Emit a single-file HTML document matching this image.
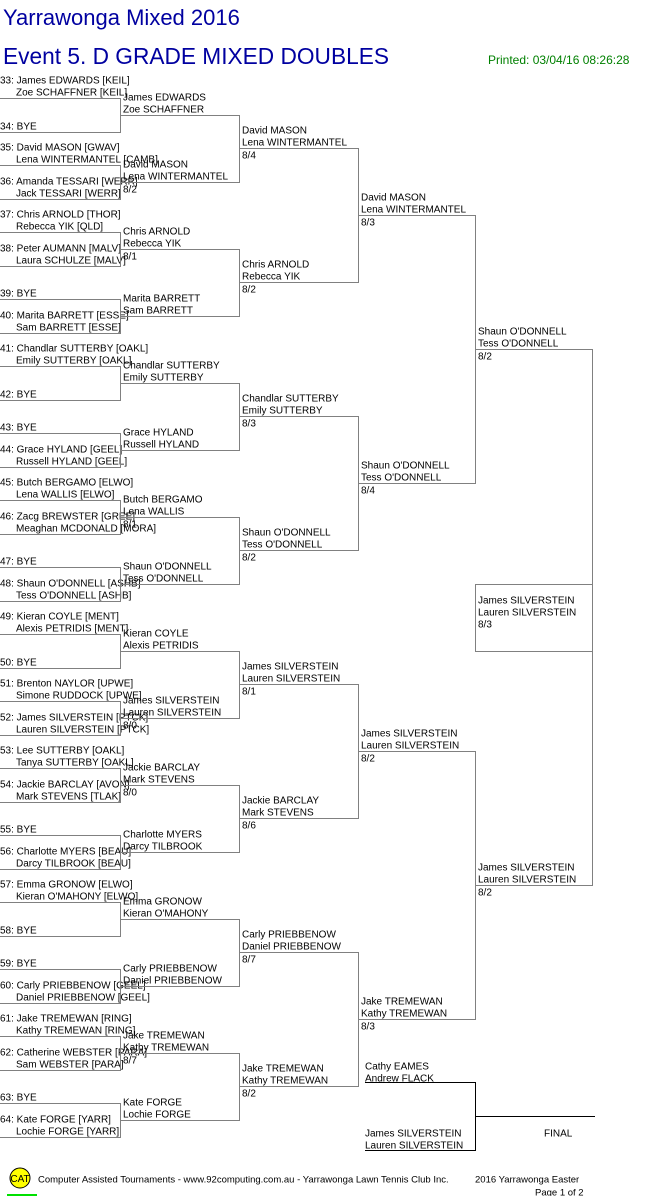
<!DOCTYPE html>
<html><head><meta charset="utf-8"><style>
html,body{margin:0;padding:0;background:#fff;width:661px;height:1196px;overflow:hidden}
svg{display:block;font-family:"Liberation Sans",Arial,sans-serif}
</style></head><body>
<svg id="s" width="661" height="1196" xmlns="http://www.w3.org/2000/svg">
<text x="3" y="25" font-size="22" fill="#0000a0">Yarrawonga Mixed 2016</text>
<text x="3" y="64" font-size="23" fill="#0000a0" textLength="386" lengthAdjust="spacingAndGlyphs">Event 5. D GRADE MIXED DOUBLES</text>
<text x="488" y="64" font-size="12" fill="#008000">Printed: 03/04/16 08:26:28</text>
</svg>
<script>
var s=document.getElementById('s'),h='';
function L(x1,y1,x2,y2,c){h+='<line x1="'+x1+'" y1="'+(y1+.5)+'" x2="'+x2+'" y2="'+(y2+.5)+'" stroke="'+(c||'#808080')+'" stroke-width="1"/>';}
function V(x,y1,y2,c){h+='<line x1="'+(x+.5)+'" y1="'+y1+'" x2="'+(x+.5)+'" y2="'+y2+'" stroke="'+(c||'#808080')+'" stroke-width="1"/>';}
function T(x,y,t,sz){if(!t)return;t=t.replace(/&/g,'&amp;');h+='<text x="'+x+'" y="'+(y+3.5)+'" font-size="'+(sz||10)+'" fill="#000">'+t+'</text>';}
var r1=[["James EDWARDS [KEIL]","Zoe SCHAFFNER [KEIL]"],["BYE"],["David MASON [GWAV]","Lena WINTERMANTEL [CAMB]"],["Amanda TESSARI [WERR]","Jack TESSARI [WERR]"],["Chris ARNOLD [THOR]","Rebecca YIK [QLD]"],["Peter AUMANN [MALV]","Laura SCHULZE [MALV]"],["BYE"],["Marita BARRETT [ESSE]","Sam BARRETT [ESSE]"],["Chandlar SUTTERBY [OAKL]","Emily SUTTERBY [OAKL]"],["BYE"],["BYE"],["Grace HYLAND [GEEL]","Russell HYLAND [GEEL]"],["Butch BERGAMO [ELWO]","Lena WALLIS [ELWO]"],["Zacg BREWSTER [GREE]","Meaghan MCDONALD [MORA]"],["BYE"],["Shaun O'DONNELL [ASHB]","Tess O'DONNELL [ASHB]"],["Kieran COYLE [MENT]","Alexis PETRIDIS [MENT]"],["BYE"],["Brenton NAYLOR [UPWE]","Simone RUDDOCK [UPWE]"],["James SILVERSTEIN [PTCK]","Lauren SILVERSTEIN [PTCK]"],["Lee SUTTERBY [OAKL]","Tanya SUTTERBY [OAKL]"],["Jackie BARCLAY [AVON]","Mark STEVENS [TLAK]"],["BYE"],["Charlotte MYERS [BEAU]","Darcy TILBROOK [BEAU]"],["Emma GRONOW [ELWO]","Kieran O'MAHONY [ELWO]"],["BYE"],["BYE"],["Carly PRIEBBENOW [GEEL]","Daniel PRIEBBENOW [GEEL]"],["Jake TREMEWAN [RING]","Kathy TREMEWAN [RING]"],["Catherine WEBSTER [PARA]","Sam WEBSTER [PARA]"],["BYE"],["Kate FORGE [YARR]","Lochie FORGE [YARR]"]];
for(var i=0;i<32;i++){var y=Math.round(98+33.5*i),e=r1[i],n=(33+i)+": ";
 if(e.length==1)T(0,y-6,n+e[0]);else{T(0,y-18,n+e[0]);T(16,y-6,e[1]);}
 L(0,y,120,y);}
var JE=["James EDWARDS","Zoe SCHAFFNER"],DM=["David MASON","Lena WINTERMANTEL"],CA=["Chris ARNOLD","Rebecca YIK"],MB=["Marita BARRETT","Sam BARRETT"],CS=["Chandlar SUTTERBY","Emily SUTTERBY"],GH=["Grace HYLAND","Russell HYLAND"],BB=["Butch BERGAMO","Lena WALLIS"],SO=["Shaun O'DONNELL","Tess O'DONNELL"],KC=["Kieran COYLE","Alexis PETRIDIS"],JS=["James SILVERSTEIN","Lauren SILVERSTEIN"],JB=["Jackie BARCLAY","Mark STEVENS"],CM=["Charlotte MYERS","Darcy TILBROOK"],EG=["Emma GRONOW","Kieran O'MAHONY"],CP=["Carly PRIEBBENOW","Daniel PRIEBBENOW"],JT=["Jake TREMEWAN","Kathy TREMEWAN"],KF=["Kate FORGE","Lochie FORGE"];
var rounds=[
 {x:120,w:119,y0:114.75,d:67,m:[[JE,""],[DM,"8/2"],[CA,"8/1"],[MB,""],[CS,""],[GH,""],[BB,"8/1"],[SO,""],[KC,""],[JS,"8/0"],[JB,"8/0"],[CM,""],[EG,""],[CP,""],[JT,"8/7"],[KF,""]]},
 {x:239,w:119,y0:148.25,d:134,m:[[DM,"8/4"],[CA,"8/2"],[CS,"8/3"],[SO,"8/2"],[JS,"8/1"],[JB,"8/6"],[CP,"8/7"],[JT,"8/2"]]},
 {x:358,w:117,y0:215.25,d:268,m:[[DM,"8/3"],[SO,"8/4"],[JS,"8/2"],[JT,"8/3"]]},
 {x:475,w:117,y0:349.25,d:536,m:[[SO,"8/2"],[JS,"8/2"]]}];
var prev={y0:98,d:33.5};
rounds.forEach(function(r){
 for(var k=0;k<r.m.length;k++){
  var y=Math.round(r.y0+r.d*k);
  V(r.x,Math.round(prev.y0+prev.d*2*k),Math.round(prev.y0+prev.d*(2*k+1))+1);
  L(r.x,y,r.x+r.w,y);
  T(r.x+3,y-18,r.m[k][0][0]);T(r.x+3,y-6,r.m[k][0][1]);T(r.x+3,y+7,r.m[k][1]);
 }
 prev={y0:r.y0,d:r.d};
});
V(592,349,886);
L(475,584,592,584);L(475,651,592,651);V(475,584,652);
T(478,600,"James SILVERSTEIN");T(478,612,"Lauren SILVERSTEIN");T(478,624,"8/3");
T(365,1066,"Cathy EAMES");T(365,1078,"Andrew FLACK");
T(365,1133,"James SILVERSTEIN");T(365,1145,"Lauren SILVERSTEIN");
L(365,1082,475,1082,"#000");L(365,1150,475,1150,"#000");V(475,1082,1151,"#000");L(475,1116,595,1116,"#000");
T(544,1133,"FINAL");
h+='<circle cx="20" cy="1178" r="10" fill="#ffff00" stroke="#000" stroke-width="1"/>';
h+='<text x="20" y="1182" font-size="10" text-anchor="middle" fill="#000">CAT</text>';
h+='<rect x="7" y="1194" width="30" height="2" fill="#00e000"/>';
T(38,1179,"Computer Assisted Tournaments - www.92computing.com.au -  Yarrawonga Lawn Tennis Club Inc.",9.5);
T(475,1179,"2016 Yarrawonga Easter",9.5);
T(535,1192,"Page 1 of 2",9.5);
s.insertAdjacentHTML('beforeend',h);
</script>
</body></html>
